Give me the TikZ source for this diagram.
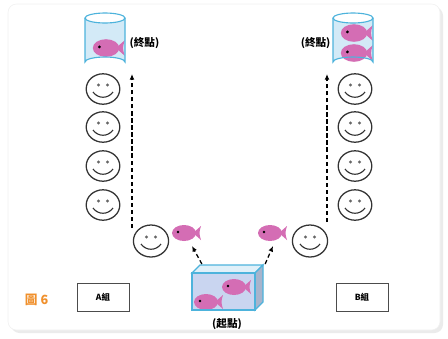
\documentclass[tikz,border=0pt]{standalone}
\usepackage{fontspec}
\newfontfamily\cjk{Noto Sans CJK TC}
\usepackage{tikz}
\usetikzlibrary{arrows.meta,shapes.geometric}

\definecolor{fishpink}{HTML}{D46DB4}
\definecolor{glassline}{HTML}{4DB3DC}
\definecolor{glassfill}{HTML}{D3EAF7}
\definecolor{tankfront}{HTML}{C9D5F0}
\definecolor{tankside}{HTML}{A7B4CC}
\definecolor{figorange}{HTML}{F0902C}

\tikzset{
  lab/.style={font=\cjk\bfseries\fontsize{7.5}{8}\selectfont, inner sep=1pt},
  group/.style={draw=black!70, line width=0.6pt, minimum width=1.3cm, minimum height=0.7cm,
    font=\cjk\bfseries\fontsize{6}{7}\selectfont},
  pass/.style={-{Latex[length=1.4mm,width=1.2mm]}, line width=0.9pt, dash pattern=on 3pt off 2pt},
  face/.style={draw=black!80, line width=0.9pt, ellipse, minimum width=0.84cm, minimum height=0.76cm, inner sep=0pt},
  fish/.pic={
    \fill[fishpink] (9,0) -- (17,-7) .. controls (15,0) .. (17,7) -- cycle;
    \fill[fishpink] (0,0) ellipse (12 and 8);
    \fill[black] (-6,-1) circle (1.4);
  },
  smile/.pic={
    \fill[black!60] (-4.5,-4) circle (1.6) (4.5,-4) circle (1.6);
    \draw[black!80, line width=0.8pt] (-10,3) .. controls (-5,10) and (5,10) .. (10,3);
  }
}

\begin{document}
\begin{tikzpicture}[x=0.025cm, y=-0.025cm]
  \useasboundingbox (0,0) rectangle (448,338);
  % panel
  \fill[black!8, rounded corners=6pt] (11,7) rectangle (443,333);
  \draw[black!6, fill=white, rounded corners=6pt] (8,4) rectangle (440,330);

  % cups at the finish
  \foreach \cx/\nm in {105/cupA, 353/cupB} {
    \fill[glassfill] (\cx-20,18) -- (\cx-20,62) arc[start angle=180, end angle=360, x radius=20, y radius=5]
      -- (\cx+20,18) arc[start angle=0, end angle=180, x radius=20, y radius=5] -- cycle;
    \coordinate (\nm) at (\cx,40);
  }
  \pic[scale=1.1] at (106,48) {fish};
  \pic[scale=1.1] at (354,33) {fish};
  \pic[scale=1.1] at (354,53) {fish};
  \foreach \cx in {105, 353} {
    \draw[glassline, line width=0.8pt] (\cx-20,18) -- (\cx-20,62) arc[start angle=180, end angle=360, x radius=20, y radius=5]
      -- (\cx+20,18);
    \draw[glassline, line width=0.8pt] (\cx,18) ellipse (20 and 5);
  }
  \node[lab, anchor=west] (endA) at (128,43) {(終點)};
  \node[lab, anchor=east] (endB) at (332,43) {(終點)};

  % queues
  \foreach \i/\y in {1/89, 2/127, 3/166, 4/205} {
    \node[face] (a\i) at (103,\y) {};
    \pic at (a\i) {smile};
    \node[face] (b\i) at (355,\y) {};
    \pic at (b\i) {smile};
  }
  \node[face, minimum width=0.88cm, minimum height=0.8cm] (a0) at (151,241) {};
  \pic at (a0) {smile};
  \node[face, minimum width=0.88cm, minimum height=0.8cm] (b0) at (310,241) {};
  \pic at (b0) {smile};

  \coordinate (upA0) at (132,228);
  \coordinate (upA1) at (132,74);
  \coordinate (upB0) at (327,222);
  \coordinate (upB1) at (327,74);
  \draw[pass] (upA0) -- (upA1);
  \draw[pass] (upB0) -- (upB1);

  % handed fish
  \pic at (184,233) {fish};
  \coordinate (fishA) at (192,246);
  \pic at (270,233) {fish};
  \coordinate (fishB) at (273,246);

  % tank at the start
  \draw[glassline, line width=0.8pt, fill=glassfill!70] (192,273) -- (200,265) -- (263,265) -- (255,273) -- cycle;
  \draw[glassline, line width=0.8pt, fill=tankside] (255,273) -- (263,265) -- (263,302) -- (255,310) -- cycle;
  \fill[tankfront] (192,273) rectangle (255,310);
  \pic at (234,287) {fish};
  \pic at (206,302) {fish};
  \draw[glassline, line width=0.8pt] (192,273) rectangle (255,310);
  \coordinate (tank) at (230,264);
  \node[lab] (start) at (227,324) {(起點)};

  \draw[pass] ([xshift=-20]tank) -- (fishA);
  \draw[pass] ([xshift=25]tank) -- (fishB);

  \node[group] (grpA) at (103,297) {A組};
  \node[group] (grpB) at (362,297) {B組};

  \node[anchor=west, text=figorange, font=\cjk\bfseries\fontsize{9}{10}\selectfont] (fig) at (20,300) {圖 6};
\end{tikzpicture}
\end{document}
